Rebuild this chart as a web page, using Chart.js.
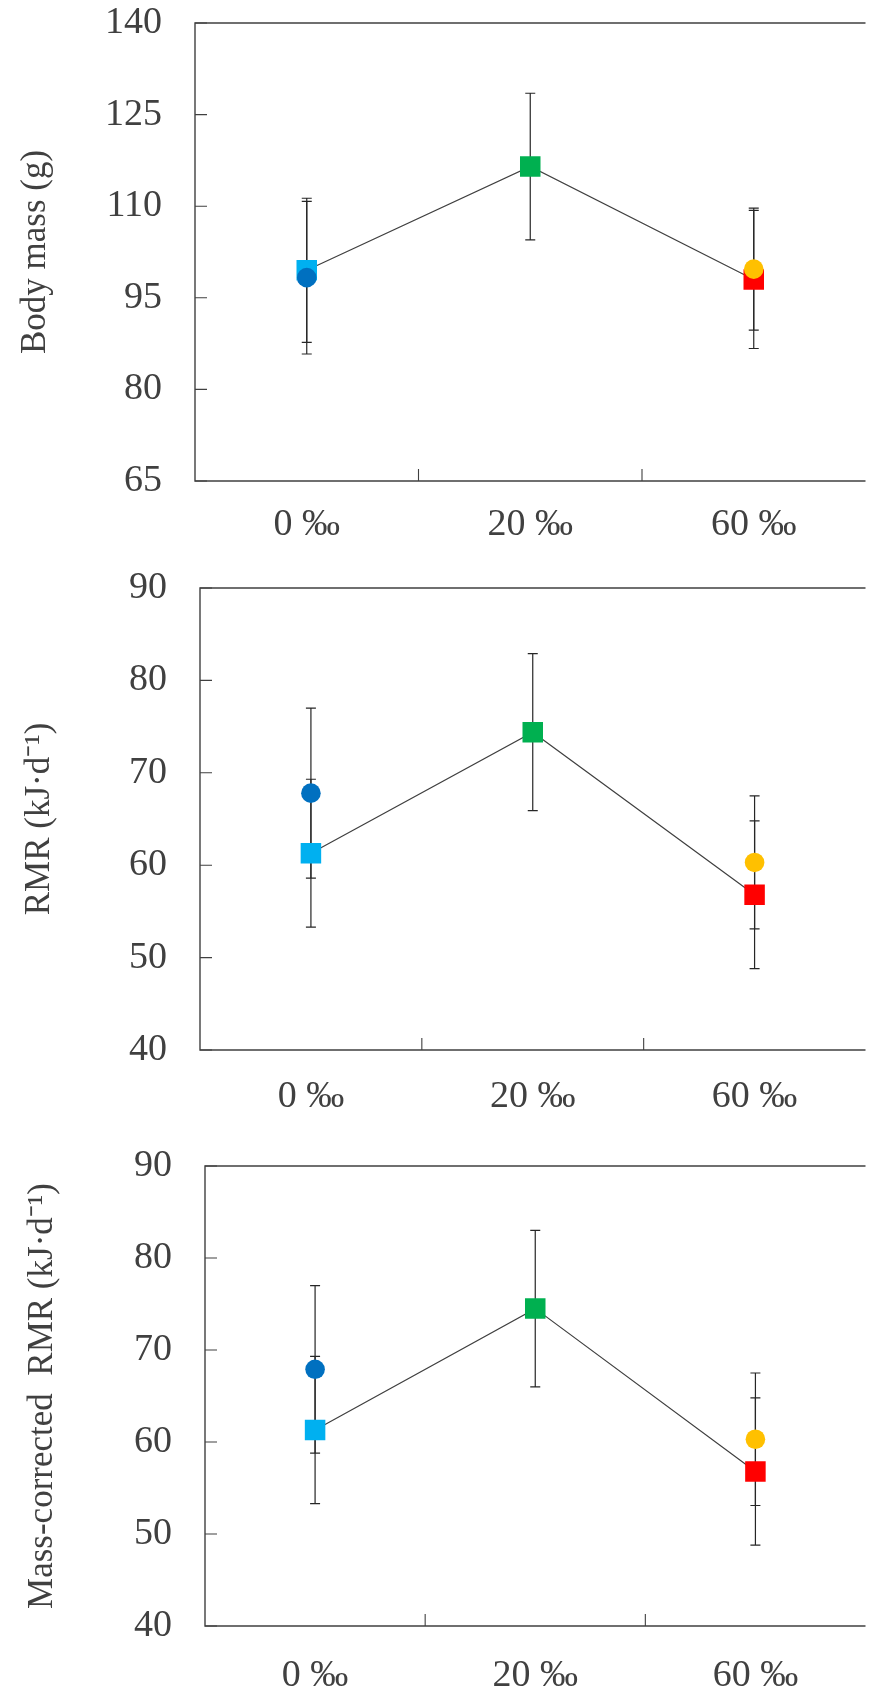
<!DOCTYPE html>
<html>
<head>
<meta charset="utf-8">
<script src="https://cdn.jsdelivr.net/npm/chart.js@4.4.1/dist/chart.umd.min.js"></script>
<style>
html, body { margin: 0; padding: 0; background: #fff; overflow: hidden; width: 869px; height: 1692px; }
.panel { position: absolute; left: 0; width: 880px; }
</style>
</head>
<body>
<div class="panel" style="top:0;height:555px"><canvas id="mass-chart"></canvas></div>
<div class="panel" style="top:555px;height:575px"><canvas id="rmr-chart"></canvas></div>
<div class="panel" style="top:1130px;height:562px"><canvas id="mcrmr-chart"></canvas></div>
<script>
'use strict';
var categories = ['0 ‰', '20 ‰', '60 ‰'];

// body mass (g)
var massSquare = [99.5, 116.5, 98.0];
var massSquareErr = [11.8, 12.0, 11.3];
var massCircle = [98.3, null, 99.7];
var massCircleErr = [12.5, null, 10.0];
var massTicks = [65, 80, 95, 110, 125, 140];

// RMR (kJ/d)
var rmrSquare = [61.3, 74.4, 56.8];
var rmrSquareErr = [8.0, 8.5, 8.0];
var rmrCircle = [67.8, null, 60.3];
var rmrCircleErr = [9.2, null, 7.2];
var rmrTicks = [40, 50, 60, 70, 80, 90];

// mass-corrected RMR (kJ/d)
var mcRmrSquare = [61.3, 74.5, 56.8];
var mcRmrSquareErr = [8.0, 8.5, 8.0];
var mcRmrCircle = [67.9, null, 60.3];
var mcRmrCircleErr = [9.1, null, 7.2];

var squareColors = ['#00b0f0', '#00b050', '#ff0000'];
var circleColors = ['#0070c0', '#0070c0', '#ffc000'];

var axisColor = '#404040';
var textColor = '#404040';

Chart.defaults.font.family = '"Liberation Serif", "Times New Roman", serif';
Chart.defaults.color = textColor;

// error bars, drawn behind the markers
var errorBars = {
    id: 'errorBars',
    beforeDatasetsDraw: function (chart) {
        var ctx = chart.ctx;
        var xs = chart.scales.x;
        var ys = chart.scales.y;
        ctx.save();
        ctx.strokeStyle = '#262626';
        ctx.lineWidth = 1.2;
        chart.data.datasets.forEach(function (ds) {
            ds.data.forEach(function (v, i) {
                if (v === null) return;
                var px = xs.getPixelForValue(i);
                var top = ys.getPixelForValue(v + ds.errors[i]);
                var bot = ys.getPixelForValue(v - ds.errors[i]);
                ctx.beginPath();
                ctx.moveTo(px, top); ctx.lineTo(px, bot);
                ctx.moveTo(px - 5, top); ctx.lineTo(px + 5, top);
                ctx.moveTo(px - 5, bot); ctx.lineTo(px + 5, bot);
                ctx.stroke();
            });
        });
        ctx.restore();
    }
};

// frame: left, bottom, top lines + inner tick marks
var frame = {
    id: 'frame',
    afterDatasetsDraw: function (chart) {
        var ctx = chart.ctx;
        var a = chart.chartArea;
        var xs = chart.scales.x;
        var ys = chart.scales.y;
        ctx.save();
        ctx.strokeStyle = axisColor;
        ctx.lineWidth = 1.4;
        ctx.beginPath();
        ctx.moveTo(a.right, a.top); ctx.lineTo(a.left, a.top);
        ctx.lineTo(a.left, a.bottom); ctx.lineTo(a.right, a.bottom);
        ctx.stroke();
        ctx.lineWidth = 1.1;
        ctx.beginPath();
        ys.ticks.forEach(function (t, i) {
            var py = ys.getPixelForTick(i);
            ctx.moveTo(a.left, py); ctx.lineTo(a.left + 12, py);
        });
        for (var i = 1; i < categories.length; i++) {
            var bx = (xs.getPixelForValue(i - 1) + xs.getPixelForValue(i)) / 2;
            ctx.moveTo(bx, a.bottom); ctx.lineTo(bx, a.bottom - 12);
        }
        ctx.stroke();
        ctx.restore();
    }
};

function buildPanel(id, cfg) {
    new Chart(document.getElementById(id), {
        type: 'line',
        data: {
            labels: categories,
            datasets: [{
                data: cfg.circle,
                errors: cfg.circleErr,
                showLine: false,
                order: 0,
                pointStyle: 'circle',
                pointRadius: 9.8,
                pointBorderWidth: 0,
                pointBackgroundColor: circleColors
            }, {
                data: cfg.square,
                errors: cfg.squareErr,
                order: 1,
                borderColor: '#404040',
                borderWidth: 1.2,
                pointStyle: 'rect',
                pointRadius: 14.5,
                pointBorderWidth: 0,
                pointBackgroundColor: squareColors
            }]
        },
        options: {
            responsive: true,
            maintainAspectRatio: false,
            animation: false,
            events: [],
            layout: { padding: { top: cfg.padTop, right: cfg.padRight, left: 0, bottom: 0 } },
            plugins: { legend: { display: false }, tooltip: { enabled: false } },
            scales: {
                x: {
                    offset: true,
                    grid: { display: false, drawTicks: false },
                    border: { display: false },
                    ticks: { font: { size: 38, lineHeight: 1 }, padding: cfg.xPad, color: textColor },
                    afterFit: function (scale) { scale.height = cfg.xHeight; }
                },
                y: {
                    min: cfg.ticks[0],
                    max: cfg.ticks[cfg.ticks.length - 1],
                    grid: { display: false, drawTicks: false },
                    border: { display: false },
                    ticks: { stepSize: cfg.ticks[1] - cfg.ticks[0], font: { size: 38, lineHeight: 1 }, padding: 33, color: textColor },
                    title: {
                        display: true,
                        text: cfg.title,
                        font: { size: 35, lineHeight: 1.2 },
                        color: textColor,
                        padding: { top: cfg.titlePad, bottom: 0 }
                    },
                    afterFit: function (scale) {
                        scale.width = cfg.yWidth;
                        // keep the tick padding from pushing the plot area down
                        scale.paddingTop = 0;
                        scale.paddingBottom = 0;
                    }
                }
            }
        },
        plugins: [errorBars, frame]
    });
}

buildPanel('mass-chart', {
    title: 'Body mass (g)', square: massSquare, squareErr: massSquareErr,
    circle: massCircle, circleErr: massCircleErr, ticks: massTicks,
    padTop: 23, padRight: 7, yWidth: 195, xHeight: 74, xPad: 25, titlePad: 15
});
buildPanel('rmr-chart', {
    title: 'RMR (kJ·d⁻¹)', square: rmrSquare, squareErr: rmrSquareErr,
    circle: rmrCircle, circleErr: rmrCircleErr, ticks: rmrTicks,
    padTop: 33, padRight: 11, yWidth: 200, xHeight: 80, xPad: 28, titlePad: 19
});
buildPanel('mcrmr-chart', {
    title: 'Mass-corrected  RMR (kJ·d⁻¹)', square: mcRmrSquare, squareErr: mcRmrSquareErr,
    circle: mcRmrCircle, circleErr: mcRmrCircleErr, ticks: rmrTicks,
    padTop: 36, padRight: 5, yWidth: 205, xHeight: 66, xPad: 31, titlePad: 22
});
</script>
</body>
</html>
